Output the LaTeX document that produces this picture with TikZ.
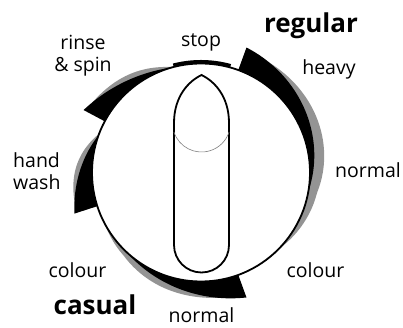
\documentclass[tikz,border=0pt]{standalone}
\usepackage{fontspec}
\setmainfont{Open Sans}
\begin{document}
\begin{tikzpicture}[x=1pt,y=1pt,
  lab/.style={font=\fontsize{19.5}{20}\selectfont, inner sep=0pt, anchor=base},
  blab/.style={font=\fontsize{26}{27}\selectfont\bfseries, inner sep=0pt, anchor=base},
  rimfill/.style={fill=black!42},
  band/.style={fill=black}]
\useasboundingbox (0,0) rectangle (403,328);
\begin{scope}[shift={(201,155.5)}]
  % grey outer rims
  \path[rimfill] plot[domain=-45:58,samples=80] (\x:{109+24*max(0,(\x+10)/80)+10*sin(1.748*(\x+45))})
     -- plot[domain=58:-45,samples=60] (\x:109) -- cycle;
  \path[rimfill] plot[domain=104:147,samples=60] (\x:{109+24*(0.5*max(0,(\x-106)/46)+0.5*max(0,(\x-106)/46)^2)+5*sin(4.186*(\x-104))})
     -- plot[domain=147:104,samples=40] (\x:109) -- cycle;
  \path[rimfill] plot[domain=158:193,samples=60] (\x:{109+24*max(0,(\x-160)/38)+5*sin(5.143*(\x-158))})
     -- plot[domain=193:158,samples=40] (\x:109) -- cycle;
  \path[rimfill] plot[domain=208:278,samples=80] (\x:{109+24*(0.5*max(0,(\x-227)/63)+0.5*max(0,(\x-227)/63)^2)+6*sin(2.571*(\x-208))})
     -- plot[domain=278:208,samples=60] (\x:109) -- cycle;
  % black bands
  \path[band] plot[domain=-10:70,samples=80] (\x:{109+24*(\x+10)/80})
     -- plot[domain=70:-10,samples=60] (\x:109) -- cycle;
  \path[band] plot[domain=106:152,samples=60] (\x:{109+24*(0.5*(\x-106)/46+0.5*((\x-106)/46)^2)})
     -- plot[domain=152:106,samples=40] (\x:109) -- cycle;
  \path[band] plot[domain=160:198,samples=60] (\x:{109+24*(\x-160)/38})
     -- plot[domain=198:160,samples=40] (\x:109) -- cycle;
  \path[band] plot[domain=227:290,samples=80] (\x:{109+24*(0.5*(\x-227)/63+0.5*((\x-227)/63)^2)})
     -- plot[domain=290:227,samples=60] (\x:109) -- cycle;
  \path[band] plot[domain=74.5:104.5,samples=30] (\x:112.5)
     -- plot[domain=104.5:74.5,samples=30] (\x:109) -- cycle;
  % dial
  \draw[line width=1.8pt, fill=white] (0,0) circle[radius=109pt];
\end{scope}
% knob
\draw[line width=1.8pt] (174,205) .. controls (174,232) and (189,247) .. (201.5,253)
  .. controls (214,247) and (229,232) .. (229,205) -- (229,83)
  arc[start angle=0,end angle=-180,radius=27.5pt] -- cycle;
\draw[black!50, line width=0.6pt] (201.5,205) ++(198:29pt) arc[start angle=198,end angle=342,radius=29pt];
% labels
\node[lab] (stop) at (201,281) {stop};
\node[lab] (rinse) at (83,278) {rinse};
\node[lab] (spin) at (83,256) {\& spin};
\node[blab] (regular) at (311,295) {regular};
\node[lab] (heavy) at (329,253) {heavy};
\node[lab, anchor=base west] (hand) at (13,160) {hand};
\node[lab, anchor=base west] (wash) at (13,138) {wash};
\node[lab, anchor=base west] (normalr) at (335,150) {normal};
\node[lab] (colourl) at (77.5,50) {colour};
\node[lab] (colourr) at (315.5,50) {colour};
\node[blab] (casual) at (95,13) {casual};
\node[lab] (normalb) at (201.5,5) {normal};
\end{tikzpicture}
\end{document}
